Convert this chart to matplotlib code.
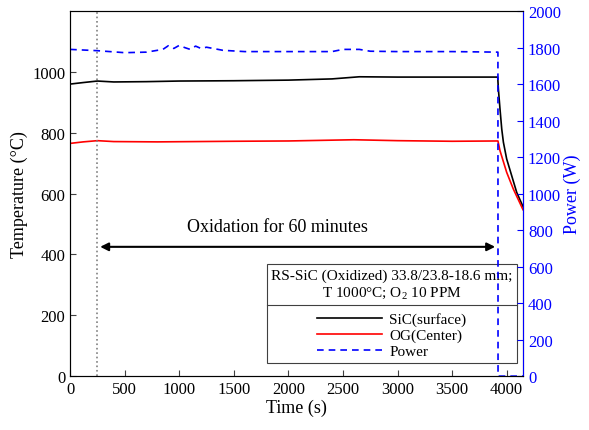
import numpy as np
import matplotlib.pyplot as plt

plt.rcParams['font.family'] = ['Liberation Serif', 'DejaVu Serif']
plt.rcParams['mathtext.fontset'] = 'custom'
plt.rcParams['mathtext.rm'] = 'Liberation Serif'
plt.rcParams['mathtext.it'] = 'Liberation Serif:italic'

# Data
sic_t = [0, 120, 250, 400, 700, 1000, 1500, 2000, 2400, 2650, 3000, 3500, 3918, 3924, 3939, 3955,
         3970, 4000, 4046, 4092, 4150]
sic_T = [960, 965, 970, 967, 968, 970, 971, 973, 977, 984, 983, 983, 983, 944, 878, 812,
         769, 714, 659, 604, 557]

og_t = [0, 120, 250, 400, 800, 1500, 2000, 2600, 3000, 3500, 3920, 3939, 4000, 4061, 4150]
og_T = [765, 770, 774, 771, 770, 772, 773, 777, 774, 772, 773, 741, 670, 615, 547]

pow_t = [0, 250, 500, 700, 850, 900, 950, 1000, 1050, 1100, 1150, 1200, 1250, 1400, 1600, 2000, 2400,
         2500, 2650, 2750, 3000, 3500, 3920, 3921, 4150]
pow_W = [1790, 1783, 1772, 1775, 1790, 1810, 1795, 1812, 1800, 1790, 1808, 1795, 1802, 1785, 1778, 1778, 1778,
         1790, 1790, 1780, 1778, 1778, 1775, 0, 0]

start_t = 250
end_t = 3920

fig = plt.figure(figsize=(5.89, 4.31), dpi=100)
ax = fig.add_axes([0.119, 0.125, 0.769, 0.847])
ax2 = ax.twinx()

l1, = ax.plot(sic_t, sic_T, color='black', lw=1.2, label='SiC(surface)')
l2, = ax.plot(og_t, og_T, color='red', lw=1.2, label='OG(Center)')
l3, = ax2.plot(pow_t, pow_W, color='blue', lw=1.2, ls=(0, (4, 3)), label='Power')

ax.axvline(start_t, color='gray', ls=':', lw=1.2)

ax.annotate('', xy=(start_t, 425), xytext=(end_t, 425),
            arrowprops=dict(arrowstyle='<|-|>', color='black', lw=1.5, mutation_scale=12))
ax.text(1900, 492, 'Oxidation for 60 minutes', ha='center', va='center', fontsize=13)

ax.set_xlim(0, 4150)
ax.set_ylim(0, 1200)
ax2.set_ylim(0, 2000)
ax.set_xticks(np.arange(0, 4001, 500))
ax.set_yticks(np.arange(0, 1001, 200))
ax2.set_yticks(np.arange(0, 2001, 200))

ax.set_xlabel('Time (s)', fontsize=13, labelpad=1)
ax.set_ylabel('Temperature (°C)', fontsize=13, labelpad=3)
ax2.set_ylabel('Power (W)', fontsize=13, color='blue', labelpad=2)

ax.tick_params(direction='in', labelsize=12, length=4, color='#404040')
ax2.tick_params(direction='in', labelsize=12, length=4, colors='blue')
ax2.spines['right'].set_color('blue')
for s in ['left', 'bottom', 'top']:
    ax.spines[s].set_color('#404040')

leg = ax.legend(handles=[l1, l2, l3], loc='lower right', bbox_to_anchor=(0.987, 0.036),
                borderaxespad=0,
                title='RS-SiC (Oxidized) 33.8/23.8-18.6 mm;\nT 1000°C; O$_2$ 10 PPM',
                fontsize=11, title_fontsize=11, fancybox=False, edgecolor='#404040',
                framealpha=1, handlelength=4.2, borderpad=0.3, labelspacing=0.15,
                handletextpad=0.5)
leg.get_title().set_multialignment('center')
leg.get_frame().set_linewidth(0.8)
leg.set_zorder(10)
leg._legend_box.sep = 9

fig.canvas.draw()
tb = leg.get_title().get_window_extent()
fb = leg.get_frame().get_window_extent()
inv = fig.transFigure.inverted()
x0, y0 = inv.transform((fb.x0, tb.y0 - 5))
x1, _ = inv.transform((fb.x1, tb.y0 - 5))
fig.add_artist(plt.Line2D([x0, x1], [y0, y0], color='#404040', lw=0.8, zorder=20))

fig.savefig('out.png', dpi=100)
